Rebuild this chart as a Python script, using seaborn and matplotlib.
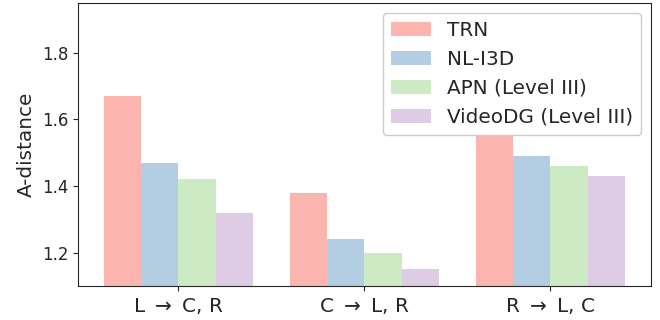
import matplotlib
matplotlib.use("Agg")
import matplotlib.pyplot as plt
import seaborn as sns
import pandas as pd

# Domain-shift settings (source -> targets)
settings = ["L $\\rightarrow$ C, R", "C $\\rightarrow$ L, R", "R $\\rightarrow$ L, C"]
methods = ["TRN", "NL-I3D", "APN (Level III)", "VideoDG (Level III)"]

trn = [1.67, 1.38, 1.58]
nl_i3d = [1.47, 1.24, 1.49]
apn = [1.42, 1.20, 1.46]
videodg = [1.32, 1.15, 1.43]

rows = []
for method, vals in zip(methods, [trn, nl_i3d, apn, videodg]):
    for s, v in zip(settings, vals):
        rows.append({"setting": s, "method": method, "A-distance": v})
df = pd.DataFrame(rows)

sns.set_style("ticks")
plt.rcParams["font.family"] = ["DejaVu Sans"]

fig, ax = plt.subplots(figsize=(6.6, 3.2), dpi=100)
sns.barplot(data=df, x="setting", y="A-distance", hue="method",
            order=settings, hue_order=methods,
            palette=sns.color_palette("Pastel1", 4), saturation=1,
            width=0.8, ax=ax, errorbar=None, linewidth=0, edgecolor="none")

ax.set_ylim(1.1, 1.95)
ax.set_xlim(-0.54, 2.54)
ax.set_yticks([1.2, 1.4, 1.6, 1.8])
ax.set_xlabel("")
ax.set_ylabel("A-distance", fontsize=14.4)
ax.tick_params(axis="y", labelsize=12)
ax.tick_params(axis="x", labelsize=14.4)
for side in ["top", "right"]:
    ax.spines[side].set_visible(True)
ax.legend(loc="upper right", fontsize=14.4, frameon=True, framealpha=1)

fig.subplots_adjust(left=0.118, right=0.986, top=0.991, bottom=0.106)
fig.savefig("out.png", dpi=100)
